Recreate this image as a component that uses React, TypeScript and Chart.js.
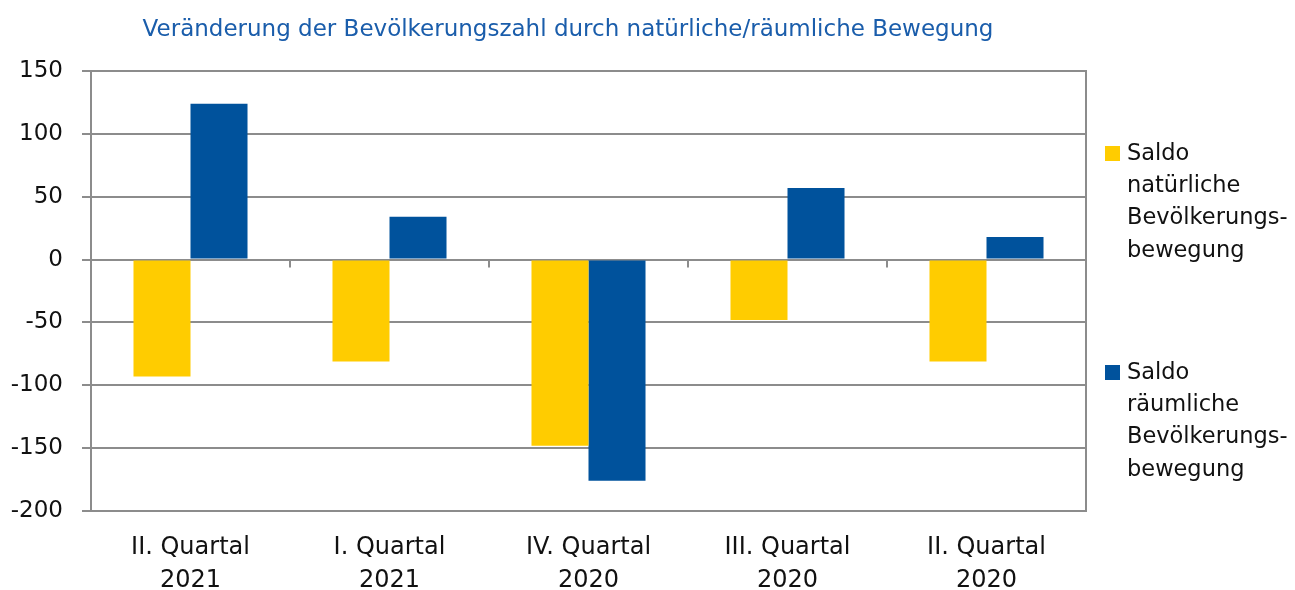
import React, { useEffect, useRef } from "react";
import { Chart, registerables } from "chart.js";

Chart.register(...registerables);

const title = "Veränderung der Bevölkerungszahl durch natürliche/räumliche Bewegung";
const categories: string[][] = [
  ["II. Quartal", "2021"],
  ["I. Quartal", "2021"],
  ["IV. Quartal", "2020"],
  ["III. Quartal", "2020"],
  ["II. Quartal", "2020"],
];
const naturalValues = [-93, -81, -148, -48, -81];
const spatialValues = [124, 34, -176, 57, 18];
const legendNatural = ["Saldo", "natürliche", "Bevölkerungs-", "bewegung"];
const legendSpatial = ["Saldo", "räumliche", "Bevölkerungs-", "bewegung"];
const yMin = -200;
const yMax = 150;
const yStep = 50;

const YELLOW = "#FFCC00";
const BLUE = "#00529C";
const GRID = "#8C8C8C";
const FONT = "'DejaVu Sans', sans-serif";

const decorPlugin = {
  id: "decor",
  afterDraw(chart: any) {
    const { ctx, chartArea, scales } = chart;
    const x = scales.x;
    const y = scales.y;
    ctx.save();
    ctx.strokeStyle = GRID;
    ctx.lineWidth = 2;
    ctx.beginPath();
    ctx.moveTo(chartArea.left, chartArea.top);
    ctx.lineTo(chartArea.right, chartArea.top);
    ctx.lineTo(chartArea.right, chartArea.bottom);
    ctx.stroke();
    const y0 = y.getPixelForValue(0);
    ctx.beginPath();
    for (let i = 1; i < categories.length; i++) {
      const xb = (x.getPixelForValue(i - 1) + x.getPixelForValue(i)) / 2;
      ctx.moveTo(xb, y0);
      ctx.lineTo(xb, y0 + 8);
    }
    ctx.stroke();
    ctx.fillStyle = "#1A5DAB";
    ctx.font = `23px ${FONT}`;
    ctx.textAlign = "center";
    ctx.textBaseline = "middle";
    ctx.fillText(title, 568, 30);
    const lx = chartArea.right + 19;
    const groups = [
      { color: YELLOW, lines: legendNatural, top: chartArea.top + 75 },
      { color: BLUE, lines: legendSpatial, top: chartArea.top + 294 },
    ];
    ctx.textAlign = "left";
    ctx.font = `22.5px ${FONT}`;
    for (const g of groups) {
      ctx.fillStyle = g.color;
      ctx.fillRect(lx, g.top, 15, 15);
      ctx.fillStyle = "#111111";
      g.lines.forEach((t, i) => {
        ctx.fillText(t, lx + 22, g.top + 8 + i * 32.3);
      });
    }
    ctx.restore();
  },
};

export default function App() {
  const ref = useRef<HTMLCanvasElement>(null);
  useEffect(() => {
    if (!ref.current) return;
    const chart = new Chart(ref.current, {
      type: "bar",
      data: {
        labels: categories,
        datasets: [
          {
            label: "Saldo natürliche Bevölkerungsbewegung",
            data: naturalValues,
            backgroundColor: YELLOW,
            categoryPercentage: 0.573,
            barPercentage: 1,
          },
          {
            label: "Saldo räumliche Bevölkerungsbewegung",
            data: spatialValues,
            backgroundColor: BLUE,
            categoryPercentage: 0.573,
            barPercentage: 1,
          },
        ],
      },
      options: {
        animation: false,
        responsive: true,
        maintainAspectRatio: false,
        layout: { padding: { top: 71, right: 209, left: 0, bottom: 0 } },
        plugins: {
          legend: { display: false },
          title: { display: false },
          tooltip: { enabled: false },
        },
        scales: {
          x: {
            grid: { display: false, drawTicks: false },
            border: { display: true, color: GRID, width: 2 },
            ticks: {
              color: "#111111",
              font: { family: FONT, size: 24, lineHeight: 1.35 },
              padding: 21,
              maxRotation: 0,
              autoSkip: false,
            },
            afterFit: (s: any) => {
              s.height = 79;
            },
          },
          y: {
            min: yMin,
            max: yMax,
            ticks: {
              stepSize: yStep,
              color: "#111111",
              font: { family: FONT, size: 23 },
              padding: 19,
            },
            grid: { color: GRID, lineWidth: 2, tickLength: 9, tickColor: GRID },
            border: { display: true, color: GRID, width: 2 },
            afterFit: (s: any) => {
              s.width = 91;
            },
          },
        },
      },
      plugins: [decorPlugin],
    });
    return () => chart.destroy();
  }, []);
  return (
    <div style={{ position: "fixed", left: 0, top: 0, width: 1295, height: 590, background: "#fff" }}>
      <canvas ref={ref} />
    </div>
  );
}
